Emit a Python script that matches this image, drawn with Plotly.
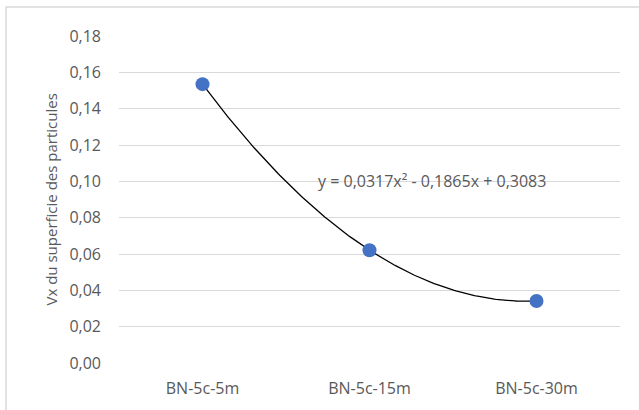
import numpy as np
import plotly.graph_objects as go

categories = ["BN-5c-5m", "BN-5c-15m", "BN-5c-30m"]
values = [0.1535, 0.0621, 0.0341]
trend_coeffs = [0.0317, -0.1865, 0.3083]  # y = a x^2 + b x + c (displayed trendline)
equation_label = "y = 0,0317x² - 0,1865x + 0,3083"
y_title = "Vx du superficie des particules"

xpos = list(range(1, len(categories) + 1))
xt = np.linspace(1, len(categories), 200)
yt = np.polyval(trend_coeffs, xt)

W, H = 639, 410
L, R, T, B = 119, 19, 36, 47
pw, ph = W - L - R, H - T - B

def px(x):
    return (x - L) / pw

def py(y):
    return (H - B - y) / ph

fig = go.Figure()
fig.add_trace(go.Scatter(x=xt, y=yt, mode="lines",
                         line=dict(color="black", width=1.3),
                         hoverinfo="skip", showlegend=False))
fig.add_trace(go.Scatter(x=xpos, y=values, mode="markers",
                         marker=dict(color="#4472C4", size=14,
                                     line=dict(color="#4472C4", width=0)),
                         showlegend=False))

fig.add_annotation(text=equation_label, x=px(316), y=py(181), xref="paper", yref="paper",
                   xanchor="left", yanchor="middle", showarrow=False,
                   font=dict(family="Open Sans", size=16, color="#595959"))
fig.add_annotation(text=y_title, x=px(50), y=0.5, xref="paper", yref="paper",
                   textangle=-90, xanchor="center", yanchor="middle", showarrow=False,
                   font=dict(family="Open Sans", size=15, color="#595959"))

fig.add_shape(type="rect", xref="paper", yref="paper",
              x0=px(6), x1=px(650), y0=py(420), y1=py(7),
              line=dict(color="#d9d9d9", width=1.5), layer="below")

fig.update_layout(
    width=W, height=H,
    margin=dict(l=L, r=R, t=T, b=B, pad=0),
    paper_bgcolor="white", plot_bgcolor="white",
    separators=", ",
    font=dict(family="Open Sans", size=16, color="#595959"),
    xaxis=dict(range=[0.5, len(categories) + 0.5], tickvals=xpos, ticktext=categories,
               showgrid=False, zeroline=False, showline=False, ticks="",
               ticklabelstandoff=14, fixedrange=True),
    yaxis=dict(range=[0, 0.18], dtick=0.02, tick0=0, tickformat=".2f",
               showgrid=True, gridcolor="#d9d9d9", gridwidth=1.3,
               zeroline=False, showline=False, ticks="",
               ticklabelstandoff=17, fixedrange=True),
)

fig.write_html("out.html", config={"displayModeBar": False},
               post_script="document.body.style.margin='0px';document.body.style.overflow='hidden';")
